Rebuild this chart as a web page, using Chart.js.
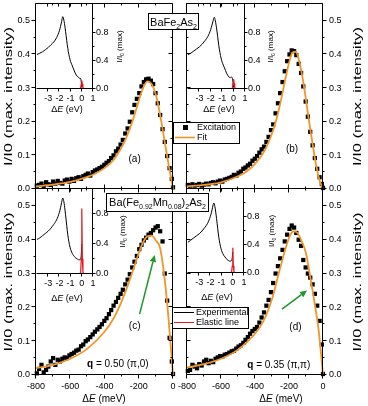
<!DOCTYPE html>
<html><head><meta charset="utf-8">
<script src="https://cdn.jsdelivr.net/npm/chart.js@4.4.1/dist/chart.umd.min.js"></script>
<style>
html,body{margin:0;padding:0;background:#fff;}
#wrap{position:relative;width:368px;height:406px;overflow:hidden;background:#fff}
#wrap canvas{position:absolute;left:0;top:0}
</style></head><body><div id="wrap"></div>
<script>
// ---------------- data ----------------
const energy = [-795,-782,-768,-755,-741,-728,-714,-700,-687,-673,-660,-646,-632,-619,-605,-592,-578,-565,-551,-537,-524,-510,-497,-483,-469,-456,-442,-429,-415,-401,-388,-374,-361,-347,-333,-320,-306,-293,-279,-265,-252,-238,-225,-211,-197,-184,-170,-157,-143,-129,-116,-102,-89,-75,-61,-48,-34,-20,-7,0];
const intensityA = [0.010,0.012,0.016,0.008,0.020,0.014,0.012,0.022,0.016,0.024,0.018,0.016,0.025,0.028,0.022,0.030,0.024,0.032,0.035,0.030,0.038,0.042,0.046,0.040,0.050,0.055,0.058,0.062,0.066,0.072,0.078,0.083,0.092,0.100,0.112,0.120,0.132,0.146,0.165,0.180,0.200,0.228,0.250,0.268,0.285,0.305,0.318,0.326,0.328,0.322,0.312,0.285,0.255,0.220,0.178,0.140,0.098,0.062,0.030,0.005];
const intensityB = [0.012,0.010,0.014,0.010,0.012,0.015,0.010,0.013,0.016,0.014,0.018,0.020,0.017,0.022,0.025,0.022,0.028,0.030,0.033,0.036,0.042,0.040,0.048,0.052,0.060,0.064,0.070,0.075,0.084,0.090,0.098,0.108,0.118,0.126,0.140,0.155,0.175,0.192,0.225,0.255,0.285,0.318,0.350,0.380,0.400,0.412,0.410,0.398,0.372,0.345,0.305,0.260,0.215,0.170,0.130,0.092,0.060,0.035,0.015,0.003];
const intensityC = [0.005,0.018,0.030,0.008,0.015,0.025,0.040,0.050,0.030,0.045,0.040,0.048,0.052,0.050,0.058,0.062,0.066,0.072,0.075,0.085,0.090,0.100,0.105,0.112,0.120,0.128,0.135,0.142,0.150,0.160,0.168,0.180,0.192,0.205,0.216,0.228,0.240,0.252,0.268,0.282,0.298,0.318,0.335,0.352,0.372,0.385,0.398,0.406,0.415,0.420,0.428,0.436,0.440,0.425,0.395,0.300,0.220,0.110,0.040,0.003];
const intensityD = [0.012,0.015,0.030,0.025,0.020,0.032,0.028,0.040,0.045,0.035,0.042,0.038,0.048,0.052,0.056,0.055,0.060,0.062,0.066,0.070,0.072,0.078,0.084,0.088,0.095,0.104,0.112,0.122,0.130,0.136,0.142,0.155,0.170,0.185,0.205,0.222,0.245,0.272,0.300,0.322,0.345,0.370,0.395,0.415,0.432,0.442,0.436,0.420,0.400,0.382,0.340,0.318,0.300,0.288,0.268,0.240,0.205,0.160,0.090,0.003];

const fitEnergyA = [-800,-700,-600,-500,-450,-400,-350,-300,-275,-250,-225,-200,-175,-150,-125,-100,-75,-50,-25,0];
const fitA = [0.008,0.013,0.021,0.036,0.047,0.062,0.085,0.124,0.150,0.182,0.220,0.262,0.300,0.320,0.312,0.280,0.220,0.145,0.070,0.0];
const fitEnergyB = [-800,-700,-600,-500,-450,-400,-350,-300,-275,-250,-225,-200,-180,-160,-140,-120,-100,-80,-60,-40,-20,0];
const fitB = [0.008,0.012,0.020,0.038,0.052,0.075,0.108,0.165,0.205,0.258,0.318,0.375,0.405,0.408,0.380,0.330,0.265,0.195,0.130,0.070,0.025,0.0];
const fitEnergyCD = [-800,-700,-600,-500,-400,-350,-300,-250,-200,-175,-150,-125,-100,-75,-50,-25,0];
const fitC = [0.020,0.030,0.048,0.078,0.128,0.165,0.218,0.285,0.360,0.392,0.410,0.412,0.398,0.375,0.290,0.160,0.0];
const fitD = [0.022,0.032,0.048,0.075,0.122,0.160,0.225,0.320,0.405,0.425,0.420,0.395,0.360,0.290,0.215,0.130,0.0];

const insetEnergy = [-4,-3.75,-3.5,-3.25,-3,-2.75,-2.5,-2.25,-2,-1.9,-1.8,-1.7,-1.6,-1.5,-1.4,-1.3,-1.2,-1.1,-1,-0.9,-0.8,-0.7,-0.6,-0.5,-0.4,-0.3,-0.2,-0.1,-0.05,0];
const spectrumA = [0.49,0.51,0.53,0.56,0.59,0.63,0.67,0.73,0.83,0.89,0.96,1.03,0.98,0.88,0.76,0.63,0.53,0.45,0.39,0.35,0.31,0.27,0.23,0.20,0.18,0.17,0.15,0.15,0.10,0.02];
const spectrumB = [0.49,0.51,0.54,0.57,0.60,0.64,0.69,0.75,0.85,0.91,0.97,1.02,0.97,0.87,0.75,0.62,0.52,0.44,0.38,0.34,0.30,0.26,0.22,0.19,0.17,0.16,0.17,0.15,0.10,0.02];
const spectrumC = [0.46,0.48,0.51,0.54,0.57,0.61,0.66,0.72,0.82,0.88,0.95,1.01,0.96,0.85,0.72,0.58,0.47,0.39,0.33,0.29,0.26,0.24,0.22,0.21,0.20,0.19,0.19,0.20,0.25,0.40];
const spectrumD = [0.44,0.47,0.50,0.53,0.56,0.60,0.65,0.71,0.81,0.87,0.94,1.00,0.95,0.84,0.71,0.57,0.46,0.38,0.32,0.28,0.25,0.23,0.21,0.19,0.18,0.17,0.17,0.18,0.22,0.30];
const elasticEnergy = [-1.5,-0.5,-0.2,-0.1,-0.05,0,0.05,0.1,0.2,0.5,1];
const elasticA = [0,0,0.005,0.02,0.07,0.12,0.07,0.02,0.005,0,0];
const elasticB = [0,0,0.005,0.02,0.08,0.14,0.08,0.02,0.005,0,0];
const elasticC = [0,0,0.005,0.02,0.2,0.87,0.2,0.02,0.005,0,0];
const elasticD = [0,0,0.005,0.02,0.1,0.36,0.1,0.02,0.005,0,0];

const mainXTicks = [-800,-600,-400,-200,0];
const mainXMinor = [-700,-500,-300,-100];
const mainYTicks = [0,0.1,0.2,0.3,0.4,0.5];
const mainYMinor = [0.05,0.15,0.25,0.35,0.45];
const insetXTicks = [-3,-2,-1,0,1];
const insetYTicks = [0,0.4,0.8];
const panelLabels = ['(a)','(b)','(c)','(d)'];
const qLabels = [['0.50','(\u03c0,0)'],['0.35','(\u03c0,\u03c0)']];
const legendTop = ['Excitation','Fit'];
const legendBottom = ['Experimental','Elastic line'];

// ---------------- helpers ----------------
const FONT = "'Liberation Sans', Arial, Helvetica, sans-serif";
const ORANGE = 'rgb(240,150,40)';
const RED = 'rgb(230,20,30)';
const GREEN = 'rgb(30,150,40)';
Chart.defaults.font.family = FONT;
Chart.defaults.color = '#000';
const W = 368, H = 406;

function makeCanvas(){ const c=document.createElement('canvas'); c.width=W; c.height=H; c.style.width=W+'px'; c.style.height=H+'px'; document.getElementById('wrap').appendChild(c); return c; }
function pts(xs, ys){ return xs.map((x,i)=>({x, y:ys[i]})); }
function fontFor(st,size){ if(st==='sub') return `${Math.round(size*0.68)}px ${FONT}`; if(st==='i') return `italic ${size}px ${FONT}`; if(st==='b') return `bold ${size}px ${FONT}`; return `${size}px ${FONT}`; }
function rich(ctx, parts, x, y, size, align){
  let w=0; const segs = parts.map(([t,st])=>{ const f=fontFor(st,size); ctx.font=f; const m=ctx.measureText(t).width; w+=m; return {t,st,f,m}; });
  let cx = align==='center' ? x-w/2 : (align==='right' ? x-w : x);
  ctx.textAlign='left'; ctx.textBaseline='alphabetic'; ctx.fillStyle='#000';
  for(const s of segs){ ctx.font=s.f; ctx.fillText(s.t, cx, y + (s.st==='sub' ? size*0.28 : 0)); cx+=s.m; }
  return w;
}
function vRich(ctx, parts, cx, cy, size, len){
  ctx.save(); ctx.translate(cx, cy); ctx.rotate(-Math.PI/2);
  let w=0; parts.forEach(([t,st])=>{ ctx.font=fontFor(st,size); w+=ctx.measureText(t).width; });
  if(len) ctx.scale(len/w, 1);
  rich(ctx, parts, 0, size*0.35, size, 'center');
  ctx.restore();
}
function tickMarks(ctx, scale, values, fixed, horizontal, dir, len){
  values.forEach(v=>{ const p=Math.round(scale.getPixelForValue(v))-0.5;
    if(horizontal){ ctx.moveTo(p, fixed); ctx.lineTo(p, fixed+dir*len); } else { ctx.moveTo(fixed, p); ctx.lineTo(fixed+dir*len, p); } });
}
function arrow(ctx, x1,y1,x2,y2,color){
  ctx.save(); ctx.strokeStyle=color; ctx.fillStyle=color; ctx.lineWidth=1.5;
  const ang=Math.atan2(y2-y1,x2-x1), hl=7, hw=3.2;
  const bx=x2-hl*Math.cos(ang), by=y2-hl*Math.sin(ang);
  ctx.beginPath(); ctx.moveTo(x1,y1); ctx.lineTo(bx,by); ctx.stroke();
  ctx.beginPath(); ctx.moveTo(x2,y2); ctx.lineTo(bx+hw*Math.sin(ang), by-hw*Math.cos(ang)); ctx.lineTo(bx-hw*Math.sin(ang), by+hw*Math.cos(ang)); ctx.closePath(); ctx.fill();
  ctx.restore();
}
// each axis box is given the full margin on its side, so chartArea = area exactly
function sizer(px){ return s=>{ if(s.isHorizontal()) s.height=px; else s.width=px; s.paddingLeft=0; s.paddingRight=0; s.paddingTop=0; s.paddingBottom=0; }; }
function yAxisCfg(pos, area, min, max, list, padding){
  const m = pos==='left' ? area.l : W-area.r;
  return { type:'linear', position:pos, min, max, afterFit:sizer(m),
    afterBuildTicks:s=>{ s.ticks=list.map(v=>({value:v})); },
    grid:{display:false, drawTicks:false}, border:{display:false},
    ticks:{display:true, padding, autoSkip:false, font:{size:9}, color:'#000', callback:v=>Number(v).toFixed(1)} };
}
function xAxisCfg(area, min, max, list, padding, show){
  return { type:'linear', position:'bottom', min, max, afterFit:sizer(H-area.b),
    afterBuildTicks:s=>{ s.ticks=list.map(v=>({value:v})); },
    grid:{display:false, drawTicks:false}, border:{display:false},
    ticks:{display:show, padding, autoSkip:false, maxRotation:0, minRotation:0, font:{size:9}, color:'#000', callback:v=>String(v)} };
}
function baseOptions(area, pos, scales){
  return { responsive:false, animation:false, devicePixelRatio:1, events:[],
    layout:{padding:{left:pos==='left'?0:area.l, top:area.t, right:pos==='right'?0:W-area.r, bottom:0}},
    plugins:{legend:{display:false}, tooltip:{enabled:false}}, scales };
}

// ---------------- main panels ----------------
function mainPanel(p){
  const ds = [
    {type:'line', data:pts(p.fitE, p.fitI), borderColor:ORANGE, borderWidth:1.8, pointRadius:0, cubicInterpolationMode:'monotone', order:0, clip:false},
    {type:'scatter', data:pts(energy, p.intensity), pointStyle:'rect', pointRadius:3.0, backgroundColor:'#000', borderWidth:0, order:1, clip:false}
  ];
  const right = p.yPos==='right';
  new Chart(makeCanvas(), { type:'scatter', data:{datasets:ds},
    options: baseOptions(p.area, p.yPos, { x:xAxisCfg(p.area,-800,0,mainXTicks,6,p.bottomRow), y:yAxisCfg(p.yPos,p.area,0,0.55,mainYTicks,6) }),
    plugins:[{ id:'deco'+p.id, afterDraw(chart){
      const ctx=chart.ctx, a=chart.chartArea, xs=chart.scales.x, ys=chart.scales.y;
      const L=a.left-0.5, R=a.right-0.5, T=a.top-0.5, B=a.bottom-0.5;
      ctx.save(); ctx.strokeStyle='#000'; ctx.lineWidth=1;
      ctx.beginPath(); ctx.rect(L,T,R-L,B-T);
      tickMarks(ctx, xs, mainXTicks, B, true, p.bottomRow?1:-1, 4);
      tickMarks(ctx, xs, mainXMinor, B, true, p.bottomRow?1:-1, 2);
      tickMarks(ctx, xs, mainXTicks, T, true, 1, 4);
      tickMarks(ctx, xs, mainXMinor, T, true, 1, 2);
      tickMarks(ctx, ys, mainYTicks, L, false, right?1:-1, 4);
      tickMarks(ctx, ys, mainYMinor, L, false, right?1:-1, 2);
      tickMarks(ctx, ys, mainYTicks, R, false, right?1:-1, 4);
      tickMarks(ctx, ys, mainYMinor, R, false, right?1:-1, 2);
      ctx.stroke(); ctx.restore();
      ctx.save();
      const cy=(a.top+a.bottom)/2;
      vRich(ctx, [['I/I0 (max. intensity)','n']], right?357:8, cy, 11, 139);
      if(p.bottomRow){ rich(ctx, [['\u0394','n'],['E','i'],[' (meV)','n']], p.xTitleX, 402, 10, 'center'); }
      ctx.font=`10px ${FONT}`; ctx.textAlign='center'; ctx.textBaseline='middle'; ctx.fillStyle='#000';
      ctx.fillText(p.label, xs.getPixelForValue(p.labelAt[0]), ys.getPixelForValue(p.labelAt[1]));
      if(p.q){ rich(ctx, [['q','b'],[' = '+p.q[0]+' '+p.q[1],'n']], xs.getPixelForValue(p.qAt[0]), ys.getPixelForValue(p.qAt[1])+3.5, 10, 'center'); }
      if(p.arrow){ const r=p.arrow; arrow(ctx, xs.getPixelForValue(r[0]), ys.getPixelForValue(r[1]), xs.getPixelForValue(r[2]), ys.getPixelForValue(r[3]), GREEN); }
      ctx.restore();
    }}]
  });
}

// ---------------- insets ----------------
function insetPanel(p){
  const ds = [
    {type:'line', data:pts(elasticEnergy, p.elastic), borderColor:RED, borderWidth:1.2, pointRadius:0, tension:0, order:0},
    {type:'line', data:pts(insetEnergy, p.spectrum), borderColor:'#000', borderWidth:1, pointRadius:0, cubicInterpolationMode:'monotone', order:1}
  ];
  new Chart(makeCanvas(), { type:'scatter', data:{datasets:ds},
    options: baseOptions(p.area, 'right', { x:xAxisCfg(p.area,-4,1,insetXTicks,4,true), y:yAxisCfg('right',p.area,0,p.ymax,insetYTicks,3) }),
    plugins:[{ id:'ins'+p.id, afterDraw(chart){
      const ctx=chart.ctx, a=chart.chartArea, xs=chart.scales.x, ys=chart.scales.y;
      const L=a.left-0.5, R=a.right-0.5, T=a.top-0.5, B=a.bottom-0.5;
      ctx.save(); ctx.strokeStyle='#000'; ctx.lineWidth=1; ctx.beginPath();
      ctx.moveTo(L,B); ctx.lineTo(R,B); ctx.moveTo(R,T); ctx.lineTo(R,B);
      tickMarks(ctx, xs, insetXTicks, B, true, 1, 3);
      tickMarks(ctx, xs, insetXTicks, T, true, 1, 3);
      tickMarks(ctx, ys, insetYTicks, R, false, 1, 3);
      tickMarks(ctx, ys, [0.2,0.6,1.0], R, false, 1, 2);
      ctx.stroke(); ctx.restore();
      ctx.save();
      rich(ctx, [['\u0394','n'],['E','i'],[' (eV)','n']], p.xTitle[0], p.xTitle[1], 9, 'center');
      vRich(ctx, [['I/I','n'],['0','sub'],[' (max)','n']], p.yTitle[0], (a.top+a.bottom)/2, 8);
      ctx.restore();
      if(p.last) drawOverlay(ctx);
    }}]
  });
}

function drawOverlay(ctx){
  ctx.save(); ctx.lineWidth=1; ctx.strokeStyle='#000'; ctx.fillStyle='#fff';
  ctx.fillRect(148,13,51,17); ctx.strokeRect(148.5,13.5,50,16);
  rich(ctx, [['BaFe','n'],['2','sub'],['As','n'],['2','sub']], 173.5, 25.5, 11, 'center');
  ctx.fillStyle='#fff'; ctx.fillRect(106,193,103,19); ctx.strokeRect(106.5,193.5,102,18);
  rich(ctx, [['Ba(Fe','n'],['0.92','sub'],['Mn','n'],['0.08','sub'],[')','n'],['2','sub'],['As','n'],['2','sub']], 157.5, 206, 11, 'center');
  ctx.fillStyle='#fff'; ctx.fillRect(173,122,67,22); ctx.strokeRect(173.5,122.5,66,21);
  ctx.fillStyle='#000'; ctx.fillRect(183,125,5,5);
  ctx.strokeStyle=ORANGE; ctx.lineWidth=1.6; ctx.beginPath(); ctx.moveTo(175,137.5); ctx.lineTo(195,137.5); ctx.stroke();
  ctx.font=`9px ${FONT}`; ctx.textAlign='left'; ctx.textBaseline='middle'; ctx.fillStyle='#000';
  ctx.fillText(legendTop[0],197,128); ctx.fillText(legendTop[1],197,138);
  ctx.lineWidth=1; ctx.strokeStyle='#000'; ctx.fillStyle='#fff'; ctx.fillRect(172,307,77,22); ctx.strokeRect(172.5,307.5,76,21);
  ctx.beginPath(); ctx.moveTo(174,312.5); ctx.lineTo(194,312.5); ctx.stroke();
  ctx.strokeStyle=RED; ctx.beginPath(); ctx.moveTo(174,322.5); ctx.lineTo(194,322.5); ctx.stroke();
  ctx.fillStyle='#000'; ctx.fillText(legendBottom[0],196,312.5); ctx.fillText(legendBottom[1],196,323);
  ctx.restore();
}

mainPanel({id:'a', area:{l:36,t:4,r:173,b:189}, intensity:intensityA, fitE:fitEnergyA, fitI:fitA, yPos:'left', bottomRow:false, label:panelLabels[0], labelAt:[-224,0.087]});
insetPanel({id:'a', area:{l:37,t:4,r:93,b:89}, spectrum:spectrumA, elastic:elasticA, ymax:1.21, xTitle:[67,112], yTitle:[119]});
mainPanel({id:'b', area:{l:187,t:4,r:323,b:189}, intensity:intensityB, fitE:fitEnergyB, fitI:fitB, yPos:'right', bottomRow:false, label:panelLabels[1], labelAt:[-182,0.117]});
insetPanel({id:'b', area:{l:188,t:4,r:245,b:89}, spectrum:spectrumB, elastic:elasticB, ymax:1.21, xTitle:[219,112], yTitle:[270]});
mainPanel({id:'c', area:{l:36,t:189,r:173,b:375}, intensity:intensityC, fitE:fitEnergyCD, fitI:fitC, yPos:'left', bottomRow:true, xTitleX:104, label:panelLabels[2], labelAt:[-224,0.143], q:qLabels[0], qAt:[-322,0.035], arrow:[-195,0.18,-107,0.355]});
insetPanel({id:'c', area:{l:37,t:189,r:93,b:274}, spectrum:spectrumC, elastic:elasticC, ymax:1.13, xTitle:[67,301], yTitle:[122]});
mainPanel({id:'d', area:{l:187,t:189,r:323,b:375}, intensity:intensityD, fitE:fitEnergyCD, fitI:fitD, yPos:'right', bottomRow:true, xTitleX:281, label:panelLabels[3], labelAt:[-162,0.141], q:qLabels[1], qAt:[-260,0.03], arrow:[-241,0.195,-94,0.25]});
insetPanel({id:'d', area:{l:188,t:189,r:244,b:273}, spectrum:spectrumD, elastic:elasticD, ymax:1.2, xTitle:[217,300], yTitle:[271], last:true});
</script></body></html>
